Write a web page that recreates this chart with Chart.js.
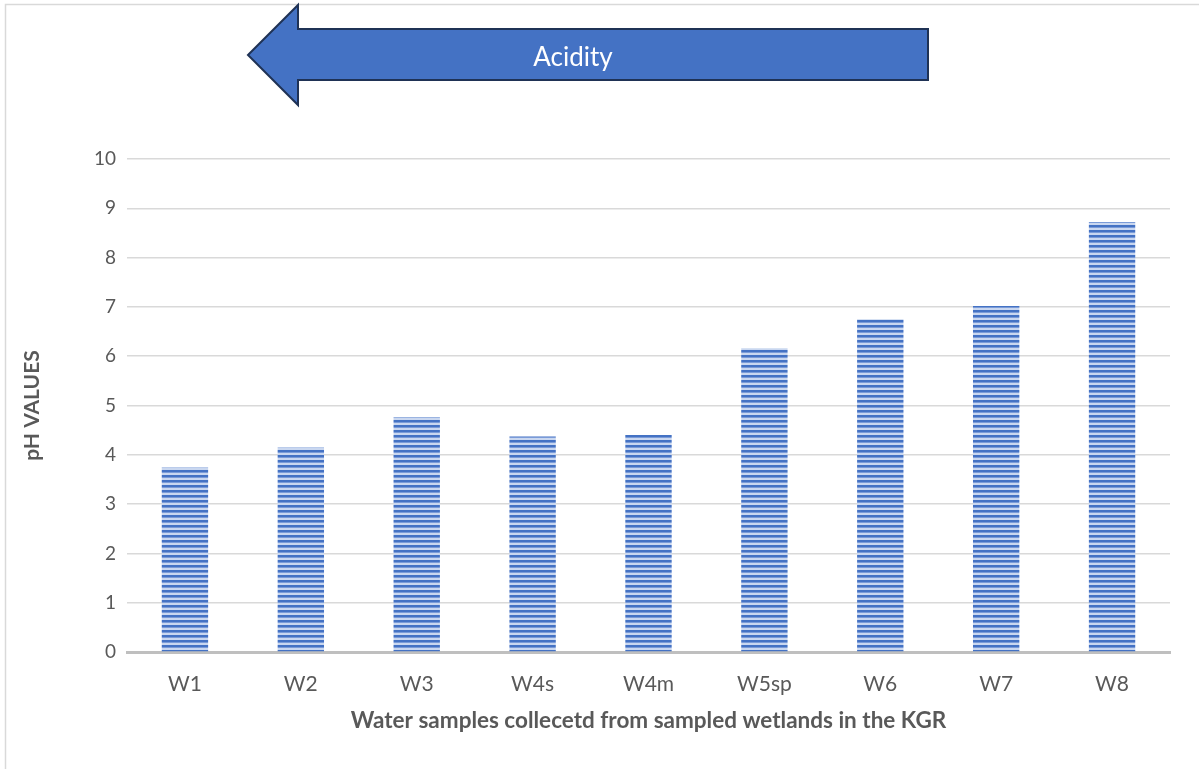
<!DOCTYPE html>
<html>
<head>
<meta charset="utf-8">
<script src="https://cdn.jsdelivr.net/npm/chart.js@4/dist/chart.umd.min.js"></script>
<style>
html,body{margin:0;padding:0;background:#fff;}
#wrap{width:1199px;height:769px;position:relative;}
</style>
</head>
<body>
<div id="wrap"><canvas id="c" width="1199" height="769"></canvas></div>
<script>
const categories = ["W1","W2","W3","W4s","W4m","W5sp","W6","W7","W8"];
const phValues = [3.74, 4.15, 4.76, 4.37, 4.40, 6.16, 6.75, 7.02, 8.72];
const yTicks = [0,1,2,3,4,5,6,7,8,9,10];
const yTitle = "pH VALUES";
const xTitle = "Water samples collecetd from sampled wetlands in the KGR";
const arrowLabel = "Acidity";

function makePattern(){
  const p = document.createElement('canvas');
  p.width = 8; p.height = 5;
  const g = p.getContext('2d');
  g.fillStyle = '#c9d7f0'; g.fillRect(0,0,8,5);
  g.fillStyle = '#4472C4'; g.fillRect(0,0,8,2);
  g.fillStyle = '#7a9bd8'; g.fillRect(0,2,8,1);
  return g.createPattern(p,'repeat');
}

const decor = {
  id:'decor',
  beforeDraw(chart){
    const ctx = chart.ctx;
    ctx.save();
    ctx.fillStyle='#fff';
    ctx.fillRect(0,0,chart.width,chart.height);
    ctx.strokeStyle='#d9d9d9';
    ctx.lineWidth=1.5;
    ctx.beginPath();
    ctx.moveTo(5.5,chart.height+5);
    ctx.lineTo(5.5,4.5);
    ctx.lineTo(chart.width+5,4.5);
    ctx.stroke();
    ctx.restore();
  },
  afterDraw(chart){
    const ctx = chart.ctx;
    ctx.save();
    ctx.beginPath();
    ctx.moveTo(248,55);
    ctx.lineTo(298,5);
    ctx.lineTo(298,29);
    ctx.lineTo(928,29);
    ctx.lineTo(928,80);
    ctx.lineTo(298,80);
    ctx.lineTo(298,105);
    ctx.closePath();
    ctx.fillStyle='#4472C4';
    ctx.fill();
    ctx.strokeStyle='#1f3255';
    ctx.lineWidth=2;
    ctx.lineJoin='miter';
    ctx.stroke();
    ctx.fillStyle='#ffffff';
    ctx.font='26px Lato';
    ctx.textAlign='center';
    ctx.textBaseline='middle';
    ctx.fillText(arrowLabel,573,58);
    ctx.restore();
  }
};

const ctx = document.getElementById('c').getContext('2d');
new Chart(ctx,{
  type:'bar',
  data:{
    labels:categories,
    datasets:[{
      data:phValues,
      backgroundColor:makePattern(),
      borderWidth:0,
      categoryPercentage:1.0,
      barPercentage:0.4
    }]
  },
  options:{
    responsive:false,
    animation:false,
    events:[],
    layout:{padding:{left:0,right:29,top:159,bottom:20}},
    plugins:{legend:{display:false},tooltip:{enabled:false}},
    scales:{
      x:{
        grid:{display:false,drawTicks:false},
        border:{display:true,color:'#bfbfbf',width:3},
        ticks:{color:'#595959',font:{family:'Lato',size:21},padding:20,maxRotation:0},
        title:{display:true,text:xTitle,color:'#595959',font:{family:'Lato',size:22.5,weight:'bold'},padding:{top:0,bottom:15}},
        afterFit(s){s.height=97;}
      },
      y:{
        min:0,max:10,
        afterBuildTicks(s){s.ticks = yTicks.map(v=>({value:v}));},
        grid:{color:'#d9d9d9',lineWidth:1.5,drawTicks:false},
        border:{display:false},
        ticks:{color:'#595959',font:{family:'Lato',size:19},padding:11},
        title:{display:true,text:yTitle,color:'#595959',font:{family:'Lato',size:21,weight:'bold'},padding:{top:20,bottom:0}},
        afterFit(s){s.width=127;}
      }
    }
  },
  plugins:[decor]
});
</script>
</body>
</html>
